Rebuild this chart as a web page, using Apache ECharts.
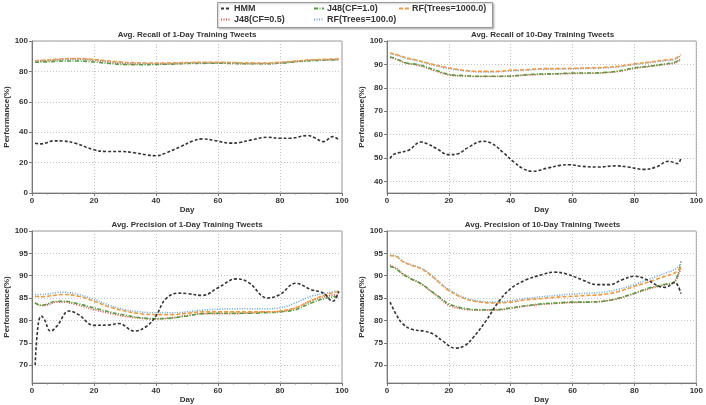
<!DOCTYPE html>
<html>
<head>
<meta charset="utf-8">
<script src="https://cdn.jsdelivr.net/npm/echarts@6/dist/echarts.min.js"></script>
<style>
  html, body { margin: 0; background: #fff; }
  #chart { width: 706px; height: 405px; }
</style>
</head>
<body>
<div id="chart"></div>
<script>
// series names (legend order)
const seriesNames = ['HMM', 'J48(CF=0.5)', 'J48(CF=1.0)', 'RF(Trees=100.0)', 'RF(Trees=1000.0)'];
const panelTitles = [
    'Avg. Recall of 1-Day Training Tweets',
    'Avg. Recall of 10-Day Training Tweets',
    'Avg. Precision of 1-Day Training Tweets',
    'Avg. Precision of 10-Day Training Tweets'
];

// Avg. Recall, 1-day training
const recall1Days = [1, 5, 10, 15, 20, 25, 30, 35, 40, 45, 50, 55, 60, 65, 70, 75, 80, 85, 90, 95, 99];
const recall1J48a = [86.5, 87, 87.8, 88, 87.3, 86, 85, 84.8, 84.8, 85, 85.3, 85.5, 85.5, 85.2, 85, 85, 85.5, 86.5, 87.3, 87.6, 87.8];
const recall1J48b = [86, 86.3, 86.8, 86.8, 86.2, 85.2, 84.5, 84.4, 84.6, 84.8, 85.2, 85.3, 85.4, 85.2, 85, 85, 85.4, 86.3, 87, 87.5, 87.8];
const recall1RF100 = [86.8, 87.3, 88, 88.2, 87.5, 86.5, 85.6, 85.3, 85.2, 85.4, 85.6, 85.8, 85.8, 85.6, 85.4, 85.3, 85.8, 86.7, 87.4, 87.8, 88];
const recall1RF1000 = [87, 87.5, 88.3, 88.5, 87.8, 86.8, 86, 85.6, 85.5, 85.6, 85.8, 86, 86, 85.8, 85.6, 85.5, 86, 86.8, 87.6, 88, 88.2];
const recall1HmmDays = [1, 3, 7, 10, 14, 20, 24, 29, 33, 37, 40, 43, 48, 52, 55, 59, 64, 67, 71, 76, 80, 83, 89, 91, 94, 97, 99];
const recall1Hmm = [32.7, 32.3, 34.3, 34.2, 32.7, 28.4, 27.3, 27.3, 26.5, 25.1, 24.5, 26.2, 30.6, 34.3, 35.6, 34.5, 32.8, 33.2, 35, 36.7, 36, 36, 37.8, 36.5, 33.8, 37.1, 35];

// Avg. Recall, 10-day training
const recall10Days = [1, 3, 6, 10, 15, 20, 25, 30, 35, 40, 45, 50, 55, 60, 65, 70, 75, 80, 85, 90, 93, 95];
const recall10J48a = [93, 92.2, 90.6, 89.6, 87.5, 85.5, 85, 84.8, 84.8, 85, 85.4, 85.7, 85.9, 86.1, 86.2, 86.4, 87, 88.3, 89.1, 90, 90.6, 92];
const recall10J48b = [93.2, 92.4, 90.7, 89.9, 87.9, 85.7, 85.2, 84.9, 84.9, 85, 85.6, 85.9, 86, 86.3, 86.3, 86.5, 87.2, 88.5, 89.3, 90.2, 90.9, 92.4];
const recall10RF100 = [94.6, 94, 92.7, 91.5, 89.7, 88.2, 87.2, 86.8, 86.8, 87.2, 87.5, 87.9, 88, 88.1, 88.3, 88.5, 89, 90, 90.8, 91.6, 92.1, 93.6];
const recall10RF1000 = [94.9, 94.2, 92.9, 91.7, 89.9, 88.5, 87.5, 87, 87, 87.5, 87.7, 88.2, 88.2, 88.3, 88.5, 88.7, 89.2, 90.2, 91, 91.9, 92.4, 94.2];
const recall10HmmDays = [1, 2, 4, 7, 11, 13, 16, 20, 23, 26, 31, 34, 38, 41, 44, 47, 52, 56, 59, 63, 68, 74, 78, 83, 87, 91, 94, 95];
const recall10Hmm = [49.7, 51.4, 52.3, 53.3, 56.8, 56.1, 54, 51.4, 51.8, 54.3, 57.1, 56.1, 51.8, 48.3, 45.4, 44.3, 45.7, 46.8, 47.1, 46.4, 46.1, 46.6, 46.1, 45.1, 46.1, 48.6, 47.6, 50];

// Avg. Precision, 1-day training
const prec1Days = [1, 3, 5, 8, 10, 15, 20, 25, 30, 35, 40, 45, 50, 55, 60, 65, 70, 75, 80, 85, 90, 95, 99];
const prec1J48a = [83.9, 83.3, 83.5, 84.1, 84.1, 83.4, 82.4, 81.6, 80.9, 80.5, 80.3, 80.6, 81.1, 81.5, 81.5, 81.5, 81.7, 81.9, 82, 82.8, 84.4, 85.4, 85.8];
const prec1J48b = [83.9, 83.4, 83.7, 84.3, 84.3, 83.7, 82.8, 81.9, 81.2, 80.6, 80.4, 80.5, 81, 81.5, 81.6, 81.6, 81.6, 81.7, 81.9, 82.4, 83.9, 85, 85.4];
const prec1RF100 = [85.8, 85.8, 85.9, 86.2, 86.3, 85.8, 84.7, 83.4, 82.4, 81.9, 81.7, 81.7, 81.9, 82.3, 82.5, 82.6, 82.6, 82.6, 82.8, 83.9, 85.4, 86.1, 86.7];
const prec1RF1000 = [85.4, 85.3, 85.4, 85.7, 85.8, 85.4, 84.3, 83, 82.1, 81.5, 81.3, 81.3, 81.6, 81.9, 81.9, 81.9, 81.9, 81.9, 82.1, 82.8, 84.4, 85.8, 86.4];
const prec1HmmDays = [1, 2, 3, 4, 6, 8, 12, 15, 20, 25, 28, 33, 37, 40, 43, 47, 50, 55, 60, 66, 70, 76, 80, 85, 90, 94, 97, 99];
const prec1Hmm = [70, 79.1, 81, 80.2, 77.6, 78.7, 82.1, 81.3, 78.9, 79, 79.3, 77.6, 78.7, 81, 84.7, 86.1, 86, 85.6, 87.3, 89.3, 88.4, 85, 85.8, 88.3, 86.9, 86.1, 84.3, 86.5];

// Avg. Precision, 10-day training
const prec10Days = [1, 3, 5, 8, 11, 14, 17, 20, 25, 30, 35, 40, 45, 50, 55, 60, 65, 70, 75, 80, 85, 90, 93, 95];
const prec10J48a = [92.4, 91.7, 90.5, 89.3, 88.2, 86.6, 85, 83.4, 82.5, 82.3, 82.3, 82.7, 83.2, 83.6, 83.8, 84, 84.1, 84.3, 84.9, 86, 87.1, 88, 88.6, 91.8];
const prec10J48b = [92.1, 91.5, 90.4, 89.2, 88.2, 86.7, 85.2, 83.7, 82.7, 82.4, 82.4, 82.8, 83.3, 83.7, 83.9, 84.1, 84.1, 84.3, 85, 86.1, 87.3, 88.1, 88.7, 93.2];
const prec10RF100 = [94.6, 94.4, 93.3, 92.4, 91.7, 90.3, 88.5, 86.9, 85.1, 84.3, 84.1, 84.4, 84.9, 85.3, 85.6, 85.9, 86.1, 86.3, 87, 88, 89.3, 90.6, 91.4, 92.5];
const prec10RF1000 = [94.5, 94.3, 93.2, 92.3, 91.6, 90.2, 88.4, 86.7, 84.9, 84.1, 83.9, 84.1, 84.6, 84.9, 85.2, 85.4, 85.6, 85.8, 86.5, 87.6, 88.7, 89.9, 90.6, 91.9];
const prec10HmmDays = [1, 3, 5, 8, 12, 15, 18, 22, 25, 28, 32, 36, 40, 45, 50, 54, 58, 63, 68, 72, 76, 80, 84, 88, 90, 93, 95];
const prec10Hmm = [84.1, 81.3, 79.3, 78, 77.6, 76.9, 75.4, 73.8, 74.3, 76.3, 79.9, 84.1, 87.1, 89.1, 90.2, 90.8, 90.4, 89.1, 88, 88, 89.1, 89.9, 89.1, 87.6, 87.4, 88.5, 86];

// y axis tick labels per panel
const recall1Ticks = [0, 20, 40, 60, 80, 100];
const recall10Ticks = [40, 50, 60, 70, 80, 90, 100];
const precTicks = [70, 75, 80, 85, 90, 95, 100];

const panels = [
    { hmm: [recall1HmmDays, recall1Hmm], days: recall1Days, lines: [recall1J48a, recall1J48b, recall1RF100, recall1RF1000], yMin: 0, ticks: recall1Ticks },
    { hmm: [recall10HmmDays, recall10Hmm], days: recall10Days, lines: [recall10J48a, recall10J48b, recall10RF100, recall10RF1000], yMin: 35, ticks: recall10Ticks },
    { hmm: [prec1HmmDays, prec1Hmm], days: prec1Days, lines: [prec1J48a, prec1J48b, prec1RF100, prec1RF1000], yMin: 66, ticks: precTicks },
    { hmm: [prec10HmmDays, prec10Hmm], days: prec10Days, lines: [prec10J48a, prec10J48b, prec10RF100, prec10RF1000], yMin: 66, ticks: precTicks }
];

// line looks, same order as seriesNames
const lineLooks = [
    { color: '#333333', type: [3, 2] },
    { color: '#e8493f', type: [1, 1.5] },
    { color: '#4f9d3f', type: [4, 1.5, 1, 1.5] },
    { color: '#6aa6dc', type: [1, 1.5] },
    { color: '#f39a3d', type: [4, 2] }
];

const grids = [
    { left: 32, top: 41, width: 310, height: 152 },
    { left: 387, top: 41, width: 311, height: 152 },
    { left: 32, top: 231, width: 310, height: 152 },
    { left: 387, top: 231, width: 311, height: 152 }
];

const txt = { color: '#333', fontWeight: 'bold', fontFamily: 'Liberation Sans, Arial, sans-serif' };
const chart = echarts.init(document.getElementById('chart'));

const zip = (xs, ys) => xs.map((x, i) => [x, ys[i]]);

const series = [];
panels.forEach((p, gi) => {
    const sets = [zip(p.hmm[0], p.hmm[1])].concat(p.lines.map(v => zip(p.days, v)));
    sets.forEach((data, si) => {
        series.push({
            name: seriesNames[si],
            type: 'line',
            xAxisIndex: gi,
            yAxisIndex: gi,
            data: data,
            smooth: 0.4,
            symbol: 'none',
            color: lineLooks[si].color,
            itemStyle: { opacity: 0 },
            lineStyle: { width: 1.6, type: lineLooks[si].type, color: lineLooks[si].color },
            z: si === 0 ? 3 : 2
        });
    });
});

const option = {
    animation: false,
    backgroundColor: '#fff',
    title: panelTitles.map((t, i) => ({
        text: t,
        left: (grids[i].left + grids[i].width / 2) + 'px',
        textAlign: 'center',
        top: i < 2 ? 31 : 221,
        padding: 0,
        textStyle: Object.assign({ fontSize: 8 }, txt)
    })),
    graphic: [{
        type: 'rect',
        left: 217, top: 2,
        shape: { width: 275, height: 25 },
        style: { fill: '#fff', stroke: '#999', lineWidth: 1, shadowBlur: 2, shadowOffsetX: 1, shadowOffsetY: 1, shadowColor: 'rgba(0,0,0,0.25)' },
        z: 0
    }],
    legend: [
        { left: 220, top: 4, data: [seriesNames[0], seriesNames[1]] },
        { left: 313, top: 4, data: [seriesNames[2], seriesNames[3]] },
        { left: 398, top: 4, data: [seriesNames[4]] }
    ].map(l => Object.assign({
        orient: 'vertical',
        itemWidth: 10,
        itemHeight: 8,
        itemGap: 2,
        padding: 0,
        itemStyle: { opacity: 0 },
        textStyle: Object.assign({ fontSize: 9, padding: [0, 0, 0, -2] }, txt)
    }, l)),
    grid: grids.map(g => Object.assign({ show: true, borderColor: '#9a9a9a', borderWidth: 1, backgroundColor: '#fff' }, g)),
    xAxis: grids.map((g, i) => ({
        type: 'value',
        gridIndex: i,
        min: 0, max: 100, interval: 20,
        name: 'Day',
        nameLocation: 'middle',
        nameGap: 12,
        nameTextStyle: Object.assign({ fontSize: 8 }, txt),
        axisLine: { lineStyle: { color: '#777' } },
        axisTick: { show: true, length: 3, lineStyle: { color: '#777' } },
        minorTick: { show: true, splitNumber: 4, length: 1.5, lineStyle: { color: '#888' } },
        axisLabel: Object.assign({ fontSize: 8, margin: 4 }, txt),
        splitLine: { show: true, lineStyle: { color: '#c4c4c4', type: [1, 2] } }
    })),
    yAxis: panels.map((p, i) => ({
        type: 'value',
        gridIndex: i,
        min: p.yMin, max: 100,
        name: 'Performance(%)',
        nameLocation: 'middle',
        nameGap: 20,
        nameTextStyle: Object.assign({ fontSize: 8 }, txt),
        axisLine: { show: true, lineStyle: { color: '#777' } },
        axisTick: { show: true, length: 3, customValues: p.ticks, lineStyle: { color: '#777' } },
        axisLabel: Object.assign({ fontSize: 8, margin: 4, customValues: p.ticks }, txt),
        splitLine: { show: true, lineStyle: { color: '#c4c4c4', type: [1, 2] } }
    })),
    series: series
};

chart.setOption(option);
window.addEventListener('resize', () => chart.resize());
</script>
</body>
</html>
